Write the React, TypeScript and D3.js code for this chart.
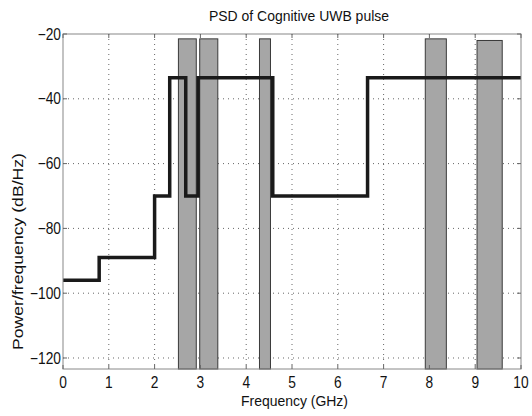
import React from "react";
import * as d3 from "d3";

const xTicks = [0, 1, 2, 3, 4, 5, 6, 7, 8, 9, 10];
const yTicks = [-120, -100, -80, -60, -40, -20];

// Step PSD of the cognitive UWB pulse
const stepFreq = [0, 0.79, 2.0, 2.33, 2.68, 2.95, 4.58, 6.65];
const stepLevel = [-96, -89, -70, -33.5, -70, -33.5, -70, -33.5];

// Occupied (primary user) bands
const bandStart = [2.52, 2.985, 4.29, 7.91, 9.04];
const bandEnd = [2.91, 3.38, 4.53, 8.37, 9.59];
const bandTop = [-21.5, -21.5, -21.5, -21.5, -22];

const W = 532;
const H = 416;
const L = 63, R = 521, T = 34, B = 369;
const FONT = "'Liberation Sans', Arial, Helvetica, sans-serif";

export default function App() {
  const x = d3.scaleLinear().domain([0, 10]).range([L, R]);
  const y = d3.scaleLinear().domain([-123.4, -20]).range([B, T]);

  const pts: [number, number][] = stepFreq.map((f, i) => [f, stepLevel[i]]);
  pts.push([10, stepLevel[stepLevel.length - 1]]);
  const line = d3
    .line<[number, number]>()
    .x((d) => x(d[0]))
    .y((d) => y(d[1]))
    .curve(d3.curveStepAfter);

  const yMin = y.domain()[0];

  return (
    <svg
      width={W}
      height={H}
      style={{ position: "absolute", left: 0, top: 0, background: "#fff" }}
    >
      <rect x={0} y={0} width={W} height={H} fill="#fff" />
      {/* grid */}
      <g stroke="#666" strokeWidth={1} strokeDasharray="1,4">
        {xTicks.slice(1, -1).map((t) => (
          <line key={"gx" + t} x1={x(t)} x2={x(t)} y1={T} y2={B} />
        ))}
        {yTicks.slice(0, -1).map((t) => (
          <line key={"gy" + t} x1={L} x2={R} y1={y(t)} y2={y(t)} />
        ))}
      </g>
      {/* bands */}
      <g>
        {bandStart.map((s, i) => (
          <rect
            key={"b" + i}
            x={x(s)}
            y={y(bandTop[i])}
            width={x(bandEnd[i]) - x(s)}
            height={y(yMin) - y(bandTop[i])}
            fill="#a6a6a6"
            stroke="#3a3a3a"
            strokeWidth={1}
          />
        ))}
      </g>
      {/* step line */}
      <path d={line(pts) || ""} fill="none" stroke="#1a1a1a" strokeWidth={3.5} strokeLinejoin="miter" />
      {/* frame */}
      <rect x={L} y={T} width={R - L} height={B - T} fill="none" stroke="#888" strokeWidth={1} />
      {/* tick marks */}
      <g stroke="#666" strokeWidth={1}>
        {xTicks.map((t) => (
          <g key={"tx" + t}>
            <line x1={x(t)} x2={x(t)} y1={B} y2={B - 4} />
            <line x1={x(t)} x2={x(t)} y1={T} y2={T + 4} />
          </g>
        ))}
        {yTicks.map((t) => (
          <g key={"ty" + t}>
            <line x1={L} x2={L + 4} y1={y(t)} y2={y(t)} />
            <line x1={R} x2={R - 4} y1={y(t)} y2={y(t)} />
          </g>
        ))}
      </g>
      {/* tick labels */}
      <g fontFamily={FONT} fill="#111">
        {xTicks.map((t) => (
          <text
            key={"lx" + t}
            transform={`translate(${x(t)},${B + 19}) scale(0.86,1)`}
            textAnchor="middle"
            fontSize={16}
          >
            {t}
          </text>
        ))}
        {yTicks.map((t) => (
          <text
            key={"ly" + t}
            transform={`translate(${L - 2},${y(t) + 5.7}) scale(0.86,1)`}
            textAnchor="end"
            fontSize={16}
          >
            {t < 0 ? "\u2212" + Math.abs(t) : t}
          </text>
        ))}
      </g>
      {/* labels */}
      <text
        x={299}
        y={21}
        textAnchor="middle"
        fontFamily={FONT}
        fontSize={15}
        textLength={180}
        lengthAdjust="spacingAndGlyphs"
        fill="#111"
      >
        PSD of Cognitive UWB pulse
      </text>
      <text
        x={294.5}
        y={406}
        textAnchor="middle"
        fontFamily={FONT}
        fontSize={15.5}
        textLength={107}
        lengthAdjust="spacingAndGlyphs"
        fill="#111"
      >
        Frequency (GHz)
      </text>
      <text
        transform={`translate(23,251.5) rotate(-90)`}
        textAnchor="middle"
        fontFamily={FONT}
        fontSize={15.5}
        textLength={197}
        lengthAdjust="spacingAndGlyphs"
        fill="#111"
      >
        Power/frequency (dB/Hz)
      </text>
    </svg>
  );
}
